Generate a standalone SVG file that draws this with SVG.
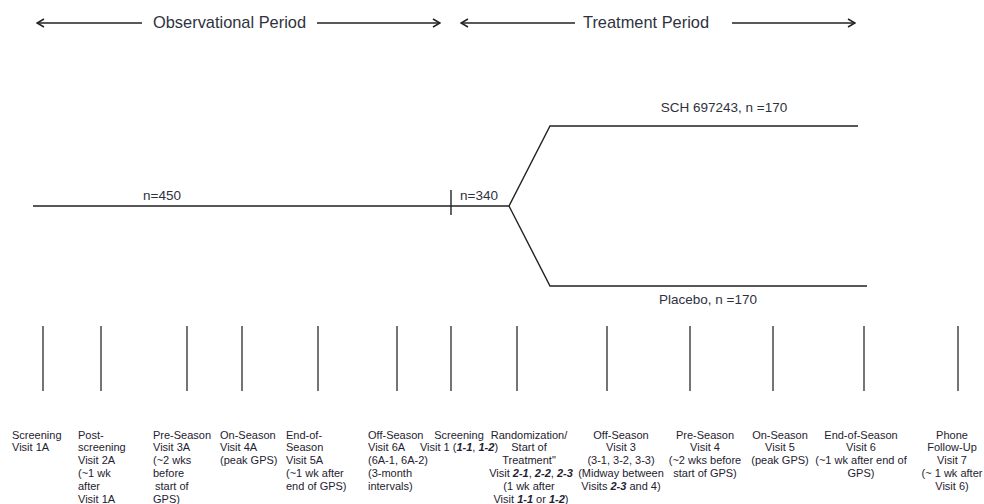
<svg xmlns="http://www.w3.org/2000/svg" width="984" height="504" viewBox="0 0 984 504">
<defs>
<marker id="ah" viewBox="0 0 10 10" refX="9" refY="5" markerWidth="10" markerHeight="10" markerUnits="userSpaceOnUse" orient="auto-start-reverse">
<path d="M2,1 L9,5 L2,9" fill="none" stroke="#222" stroke-width="1.5"/>
</marker>
<style>
.ln{stroke:#222;stroke-width:1.4;fill:none}
.vt{stroke:#2a2a2a;stroke-width:1.3}
.hd{font-family:"Liberation Sans",Arial,sans-serif;font-size:16.4px;fill:#2e3240}
.lb{font-family:"Liberation Sans",Arial,sans-serif;font-size:13.5px;fill:#2e3240}
.sm{font-family:"Liberation Sans",Arial,sans-serif;font-size:11px;fill:#1e2230}
.c{text-anchor:middle}
.it{font-style:italic;font-weight:bold}
</style>
</defs>
<rect width="984" height="504" fill="#fff"/>
<g id="connectors">
<line class="ln" x1="37" y1="23" x2="142" y2="23" marker-start="url(#ah)"/>
<line class="ln" x1="317" y1="23" x2="440" y2="23" marker-end="url(#ah)"/>
<line class="ln" x1="461" y1="23" x2="575" y2="23" marker-start="url(#ah)"/>
<line class="ln" x1="732" y1="23" x2="855" y2="23" marker-end="url(#ah)"/>
<path class="ln" d="M33,206 H509 L550,126 H858"/>
<path class="ln" d="M509,206 L550,286 H867"/>
<line class="ln" x1="451" y1="190" x2="451" y2="215"/>
<g>
<line class="vt" x1="43" y1="326" x2="43" y2="391"/>
<line class="vt" x1="101" y1="326" x2="101" y2="391" stroke="#999"/>
<line class="vt" x1="187" y1="326" x2="187" y2="391"/>
<line class="vt" x1="242" y1="326" x2="242" y2="391"/>
<line class="vt" x1="318" y1="326" x2="318" y2="391"/>
<line class="vt" x1="397" y1="326" x2="397" y2="391"/>
<line class="vt" x1="451" y1="326" x2="451" y2="391"/>
<line class="vt" x1="517" y1="326" x2="517" y2="391"/>
<line class="vt" x1="607" y1="326" x2="607" y2="391"/>
<line class="vt" x1="690" y1="326" x2="690" y2="391"/>
<line class="vt" x1="773" y1="326" x2="773" y2="391"/>
<line class="vt" x1="864" y1="326" x2="864" y2="391"/>
<line class="vt" x1="958" y1="326" x2="958" y2="391"/>
</g>
</g>
<g id="periods">
<text class="hd" x="153" y="28">Observational Period</text>
<text class="hd" x="583" y="28">Treatment Period</text>
</g>
<g id="arms">
<text class="lb" x="143" y="200">n=450</text>
<text class="lb" x="460" y="200">n=340</text>
<text class="lb c" x="724" y="112">SCH 697243, n =170</text>
<text class="lb c" x="708" y="304">Placebo, n =170</text>
</g>
<g id="v1a"><text class="sm" x="12" y="438.5">Screening<tspan x="12" dy="12.8">Visit 1A</tspan></text></g>
<g id="v2a"><text class="sm" x="78" y="438.5">Post-<tspan x="78" dy="12.8">screening</tspan><tspan x="78" dy="12.8">Visit 2A</tspan><tspan x="78" dy="12.8">(~1 wk</tspan><tspan x="78" dy="12.8">after</tspan><tspan x="78" dy="12.8">Visit 1A</tspan></text></g>
<g id="v3a"><text class="sm" x="153" y="438.5">Pre-Season<tspan x="153" dy="12.8">Visit 3A</tspan><tspan x="153" dy="12.8">(~2 wks</tspan><tspan x="153" dy="12.8">before</tspan><tspan x="155" dy="12.8">start of</tspan><tspan x="153" dy="13.5">GPS)</tspan></text></g>
<g id="v4a"><text class="sm" x="220" y="438.5">On-Season<tspan x="220" dy="12.8">Visit 4A</tspan><tspan x="220" dy="12.8">(peak GPS)</tspan></text></g>
<g id="v5a"><text class="sm" x="286" y="438.5">End-of-<tspan x="286" dy="12.8">Season</tspan><tspan x="286" dy="12.8">Visit 5A</tspan><tspan x="286" dy="12.8">(~1 wk after</tspan><tspan x="286" dy="12.8">end of GPS)</tspan></text></g>
<g id="v6a"><text class="sm" x="368" y="438.5">Off-Season<tspan x="368" dy="12.8">Visit 6A</tspan><tspan x="368" dy="12.8">(6A-1, 6A-2)</tspan><tspan x="368" dy="12.8">(3-month</tspan><tspan x="368" dy="12.8">intervals)</tspan></text></g>
<g id="v1"><text class="sm c" x="459" y="438.5">Screening<tspan x="459" dy="12.8">Visit 1 (<tspan class="it">1-1</tspan>, <tspan class="it">1-2</tspan>)</tspan></text></g>
<g id="v2"><text class="sm c" x="529" y="438.5">Randomization/<tspan x="529" dy="12.8">Start of</tspan><tspan x="529" dy="12.8">Treatment"</tspan><tspan x="531" dy="12.8">Visit <tspan class="it">2-1</tspan>, <tspan class="it">2-2</tspan>, <tspan class="it">2-3</tspan></tspan><tspan x="529" dy="12.8">(1 wk after</tspan><tspan x="531" dy="12.8">Visit <tspan class="it">1-1</tspan> or <tspan class="it">1-2</tspan>)</tspan></text></g>
<g id="v3"><text class="sm c" x="621" y="438.5">Off-Season<tspan x="621" dy="12.8">Visit 3</tspan><tspan x="621" dy="12.8">(3-1, 3-2, 3-3)</tspan><tspan x="621" dy="12.8">(Midway between</tspan><tspan x="621" dy="12.8">Visits <tspan class="it">2-3</tspan> and 4)</tspan></text></g>
<g id="v4"><text class="sm c" x="705" y="438.5">Pre-Season<tspan x="705" dy="12.8">Visit 4</tspan><tspan x="705" dy="12.8">(~2 wks before</tspan><tspan x="705" dy="12.8">start of GPS)</tspan></text></g>
<g id="v5"><text class="sm c" x="780" y="438.5">On-Season<tspan x="780" dy="12.8">Visit 5</tspan><tspan x="780" dy="12.8">(peak GPS)</tspan></text></g>
<g id="v6"><text class="sm c" x="861" y="438.5">End-of-Season<tspan x="861" dy="12.8">Visit 6</tspan><tspan x="861" dy="12.8">(~1 wk after end of</tspan><tspan x="861" dy="12.8">GPS)</tspan></text></g>
<g id="v7"><text class="sm c" x="952" y="438.5">Phone<tspan x="952" dy="12.8">Follow-Up</tspan><tspan x="952" dy="12.8">Visit 7</tspan><tspan x="952" dy="12.8">(~ 1 wk after</tspan><tspan x="952" dy="12.8">Visit 6)</tspan></text></g>
</svg>
